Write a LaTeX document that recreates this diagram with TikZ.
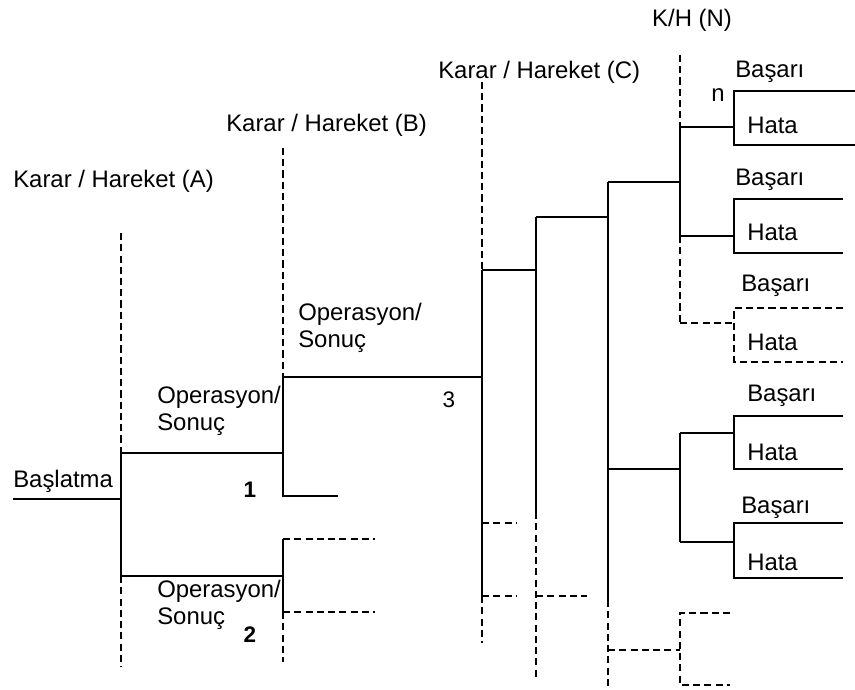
\documentclass[tikz,border=0pt]{standalone}
\usepackage{fontspec}
\setmainfont{Liberation Sans}
\tikzset{
	kararLabel/.style={
		inner sep=0pt,
		anchor=west,
		align=left,
		font=\fontsize{17}{19}\selectfont
	},
	kararNum/.style={kararLabel, anchor=center, font=\fontsize{16}{18}\selectfont\bfseries},
	kararLine/.style={line width=1.1pt},
	kararDash/.style={line width=0.9pt, dash pattern=on 5pt off 3pt}
}
\begin{document}
\begin{tikzpicture}[x=0.025cm, y=-0.025cm]
			\useasboundingbox (0,0) rectangle (855,690);

			% Headings
			\node[kararLabel] (headA) at (13,181) {Karar / Hareket (A)};
			\node[kararLabel] (headB) at (226,125) {Karar / Hareket (B)};
			\node[kararLabel] (headC) at (438,72) {Karar / Hareket (C)};
			\node[kararLabel, anchor=center] (headN) at (692,20) {K/H (N)};

			% Column A
			\coordinate (aTop) at (121,233);
			\coordinate (aUp) at (121,453);
			\coordinate (aMid) at (121,499);
			\coordinate (aLow) at (121,576);
			\coordinate (aBot) at (121,667);
			\coordinate (startEnd) at (13,499);
			\node[kararLabel] (start) at (13,481) {Başlatma};
			\node[kararLabel] (opA1) at (157,411) {Operasyon/\\Sonuç};
			\node[kararLabel] (opA2) at (157,605) {Operasyon/\\Sonuç};

			\draw[kararDash] (aTop) -- (aUp);
			\draw[kararLine] (aUp) -- (aLow);
			\draw[kararDash] (aLow) -- (aBot);
			\draw[kararLine] (startEnd) -- (aMid);

			% Column B
			\coordinate (bTop) at (283,148);
			\coordinate (bUp) at (283,377);
			\coordinate (bEnd) at (283,496);
			\coordinate (bStub) at (338,496);
			\coordinate (b2Up) at (283,539);
			\coordinate (b2Low) at (283,612);
			\coordinate (bBot) at (283,662);
			\coordinate (b2UpEnd) at (375,539);
			\coordinate (b2LowEnd) at (375,612);
			\node[kararLabel] (opB) at (298,328) {Operasyon/\\Sonuç};
			\node[kararNum] (num1) at (250,490) {1};
			\node[kararNum] (num2) at (250,635) {2};

			\draw[kararLine] (aUp) -- (aUp -| bTop);
			\draw[kararLine] (aLow) -- (aLow -| bTop);
			\draw[kararDash] (bTop) -- (bUp);
			\draw[kararLine] (bUp) -- (bEnd) -- (bStub);
			\draw[kararLine] (b2Up) -- (b2Low);
			\draw[kararDash] (b2Low) -- (bBot);
			\draw[kararDash] (b2Up) -- (b2UpEnd);
			\draw[kararDash] (b2Low) -- (b2LowEnd);

			% Column C
			\coordinate (cTop) at (482,82);
			\coordinate (cUp) at (482,270);
			\coordinate (cStub1) at (482,523);
			\coordinate (cStub2) at (482,596);
			\coordinate (cBot) at (482,643);
			\coordinate (cStub1End) at (517,523);
			\coordinate (cStub2End) at (517,596);
			\node[kararNum, font=\fontsize{16}{18}\selectfont] (num3) at (449,400) {3};

			\draw[kararLine] (bUp) -- (bUp -| cTop);
			\draw[kararDash] (cTop) -- (cUp);
			\draw[kararLine] (cUp) -- (cStub2);
			\draw[kararDash] (cStub2) -- (cBot);
			\draw[kararDash] (cStub1) -- (cStub1End);
			\draw[kararDash] (cStub2) -- (cStub2End);

			% Intermediate steps
			\coordinate (dTop) at (536,217);
			\coordinate (dMid) at (536,512);
			\coordinate (dStub) at (536,596);
			\coordinate (dBot) at (536,680);
			\coordinate (dStubEnd) at (587,596);
			\coordinate (eTop) at (608,182);
			\coordinate (eLow) at (608,469);
			\coordinate (eMid) at (608,600);
			\coordinate (eStub) at (608,650);
			\coordinate (eBot) at (608,688);

			\draw[kararLine] (cUp) -- (cUp -| dTop);
			\draw[kararLine] (dTop) -- (dMid);
			\draw[kararDash] (dMid) -- (dBot);
			\draw[kararDash] (dStub) -- (dStubEnd);
			\draw[kararLine] (dTop) -- (dTop -| eTop);
			\draw[kararLine] (eTop) -- (eMid);
			\draw[kararDash] (eMid) -- (eBot);

			% Column N, upper group
			\coordinate (nTop) at (680,55);
			\coordinate (nUp1) at (680,127);
			\coordinate (nUp2) at (680,236);
			\coordinate (nUp3) at (680,323);
			\node[kararLabel, anchor=center] (mark) at (718,95) {n};

			\draw[kararLine] (eTop) -- (eTop -| nTop);
			\draw[kararDash] (nTop) -- (nUp1);
			\draw[kararLine] (nUp1) -- (nUp2);
			\draw[kararDash] (nUp2) -- (nUp3);

			% Column N, lower group
			\coordinate (nLow1) at (680,433);
			\coordinate (nLowMid) at (680,469);
			\coordinate (nLow2) at (680,542);
			\coordinate (nDash1) at (680,613);
			\coordinate (nDashMid) at (680,650);
			\coordinate (nDash2) at (680,685);
			\coordinate (nDash1End) at (730,613);
			\coordinate (nDash2End) at (730,685);

			\draw[kararLine] (eLow) -- (nLowMid);
			\draw[kararLine] (nLow1) -- (nLow2);
			\draw[kararDash] (eStub) -- (nDashMid);
			\draw[kararDash] (nDash1End) -- (nDash1) -- (nDash2) -- (nDash2End);

			% Outcomes 1
			\coordinate (leaf1) at (734,127);
			\coordinate (ok1) at (734,91);
			\coordinate (err1) at (734,145);
			\coordinate (ok1End) at (855,91);
			\coordinate (err1End) at (855,145);
			\node[kararLabel] (okText1) at (735,72) {Başarı};
			\node[kararLabel] (errText1) at (747,125) {Hata};
			\draw[kararLine] (nUp1) -- (leaf1);
			\draw[kararLine] (ok1End) -- (ok1) -- (err1) -- (err1End);

			% Outcomes 2
			\coordinate (leaf2) at (734,236);
			\coordinate (ok2) at (734,199);
			\coordinate (err2) at (734,253);
			\coordinate (ok2End) at (843,199);
			\coordinate (err2End) at (843,253);
			\node[kararLabel] (okText2) at (735,180) {Başarı};
			\node[kararLabel] (errText2) at (747,232) {Hata};
			\draw[kararLine] (nUp2) -- (leaf2);
			\draw[kararLine] (ok2End) -- (ok2) -- (err2) -- (err2End);

			% Outcomes 3
			\coordinate (leaf3) at (734,323);
			\coordinate (ok3) at (734,308);
			\coordinate (err3) at (734,362);
			\coordinate (ok3End) at (843,308);
			\coordinate (err3End) at (843,362);
			\node[kararLabel] (okText3) at (741,286) {Başarı};
			\node[kararLabel] (errText3) at (747,342) {Hata};
			\draw[kararDash] (nUp3) -- (leaf3);
			\draw[kararDash] (ok3End) -- (ok3) -- (err3) -- (err3End);

			% Outcomes 4
			\coordinate (leaf4) at (734,433);
			\coordinate (ok4) at (734,416);
			\coordinate (err4) at (734,469);
			\coordinate (ok4End) at (843,416);
			\coordinate (err4End) at (843,469);
			\node[kararLabel] (okText4) at (747,396) {Başarı};
			\node[kararLabel] (errText4) at (747,452) {Hata};
			\draw[kararLine] (nLow1) -- (leaf4);
			\draw[kararLine] (ok4End) -- (ok4) -- (err4) -- (err4End);

			% Outcomes 5
			\coordinate (leaf5) at (734,542);
			\coordinate (ok5) at (734,523);
			\coordinate (err5) at (734,578);
			\coordinate (ok5End) at (843,523);
			\coordinate (err5End) at (843,578);
			\node[kararLabel] (okText5) at (741,508) {Başarı};
			\node[kararLabel] (errText5) at (747,562) {Hata};
			\draw[kararLine] (nLow2) -- (leaf5);
			\draw[kararLine] (ok5End) -- (ok5) -- (err5) -- (err5End);

		\end{tikzpicture}
\end{document}
